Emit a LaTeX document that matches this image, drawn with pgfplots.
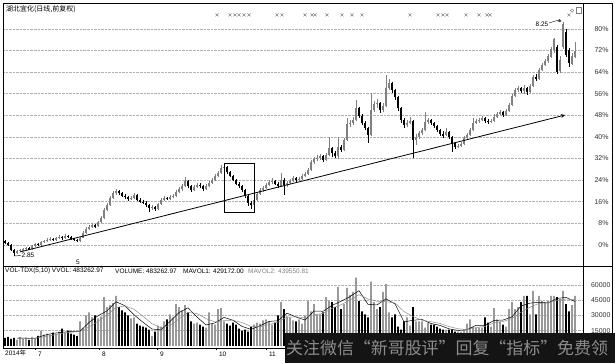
\documentclass[border=0pt]{standalone}
\usepackage{pgfplots}
\pgfplotsset{compat=1.18}
\usepackage{pgfplotstable}
\usepackage{fontspec}
\setmainfont{Liberation Sans}
\newfontfamily\cjk{Noto Sans CJK SC}
\pgfplotsset{
  upday/.style={restrict expr to domain={\thisrow{d}}{0.5:1.5}},
  downday/.style={restrict expr to domain={\thisrow{d}}{-0.5:0.5}},
}
\pgfplotstableread{
x o h l c d v
5 1.5 1.9 0.3 0.7 0 8
8 0.7 1.0 -0.4 0.0 0 9
11 0.0 0.2 -2.3 -1.9 0 7
14 -1.9 -1.5 -4.1 -3.0 0 8
17 -3.0 -1.8 -3.4 -2.2 1 6
20 -2.2 -1.4 -2.6 -1.9 1 9
23 -1.9 -1.0 -2.3 -1.5 1 7
26 -1.5 -0.6 -1.9 -1.1 1 8
29 -1.1 -0.7 -2.0 -1.6 0 6
32 -1.6 0.0 -1.9 -0.4 1 9
35 -0.4 0.9 -0.7 0.4 1 7
38 0.4 0.8 -0.3 0.0 0 10
41 0.0 1.6 -0.3 1.1 1 15
44 1.1 2.0 0.8 1.5 1 11
47 1.5 2.4 1.1 1.9 1 12
50 1.9 3.0 1.5 2.2 1 11
53 2.2 2.6 1.4 1.9 0 13
56 1.9 3.1 1.6 2.6 1 12
59 2.6 3.6 2.2 3.0 1 14
62 3.0 3.4 2.0 2.6 0 17
65 2.6 4.1 2.3 3.3 1 13
68 3.3 3.8 2.5 3.0 0 15
71 3.0 3.3 1.9 2.2 0 12
74 2.2 2.6 1.4 1.9 0 11
77 1.9 2.2 1.1 1.5 0 10
80 1.5 3.0 1.2 2.6 1 24
83 2.6 5.0 2.4 4.4 1 18
86 4.4 6.6 4.0 5.9 1 30
89 5.9 7.4 5.5 6.7 1 33
92 6.7 8.1 6.2 7.4 1 28
95 7.4 7.9 6.3 6.9 0 30
98 6.9 9.0 6.6 8.5 1 27
101 8.5 10.7 8.1 10.0 1 29
104 10.0 13.7 9.6 13.0 1 48
107 13.0 15.6 12.6 14.8 1 38
110 14.8 18.2 14.4 17.4 1 40
113 17.4 20.0 17.0 19.3 1 42
116 19.3 20.7 18.5 20.0 1 49
119 20.0 20.4 18.5 19.3 0 38
122 19.3 19.6 17.6 18.1 0 35
125 18.1 18.9 17.0 17.8 0 33
128 17.8 18.3 16.3 17.0 0 30
131 17.0 18.1 16.5 17.4 1 27
134 17.4 19.3 17.0 18.5 1 28
137 18.5 18.9 16.3 16.7 0 22
140 16.7 17.2 15.4 15.9 0 20
143 15.9 16.7 15.0 15.6 0 19
146 15.6 16.1 14.1 14.8 0 18
149 14.8 15.2 12.2 13.7 0 16
152 13.7 14.8 13.0 14.1 1 10
155 14.1 14.4 12.6 13.3 0 14
158 13.3 15.6 13.0 15.2 1 20
161 15.2 17.2 14.8 16.7 1 19
164 16.7 18.1 16.3 17.4 1 24
167 17.4 17.8 16.5 17.0 0 26
170 17.0 18.5 16.7 17.8 1 31
173 17.8 18.9 17.4 18.1 1 28
176 18.1 20.4 17.8 19.6 1 41
179 19.6 21.5 19.3 20.7 1 38
182 20.7 22.6 20.0 21.9 1 35
185 21.9 25.2 21.5 23.7 1 40
188 23.7 24.1 21.1 21.9 0 33
191 21.9 22.2 19.6 20.4 0 24
194 20.4 22.2 20.0 21.5 1 22
197 21.5 23.0 21.1 22.2 1 23
200 22.2 23.0 21.1 21.9 0 21
203 21.9 22.2 20.0 20.7 0 19
206 20.7 22.6 20.4 21.9 1 18
209 21.9 23.7 21.5 23.0 1 33
212 23.0 24.8 22.6 24.1 1 22
215 24.1 26.3 23.7 25.6 1 21
218 25.6 27.4 25.2 26.7 1 36
221 26.7 29.6 26.3 28.5 1 37
224 28.5 30.4 27.8 28.9 1 24
227 28.9 29.3 26.3 27.0 0 22
230 27.0 27.4 25.2 25.6 0 20
233 25.6 26.0 23.7 24.1 0 23
236 24.1 24.4 22.2 22.6 0 21
239 22.6 23.3 21.1 21.9 0 17
242 21.9 22.2 19.6 20.4 0 15
245 20.4 20.7 17.4 18.1 0 16
248 18.1 18.5 14.4 15.6 0 14
251 15.6 16.3 13.3 14.8 0 19
254 14.8 17.4 14.4 16.7 1 21
257 16.7 19.6 16.3 18.9 1 23
260 18.9 21.1 18.5 20.4 1 22
263 20.4 21.9 19.6 21.1 1 25
266 21.1 23.0 20.7 22.2 1 26
269 22.2 24.1 21.9 23.3 1 24
272 23.3 24.8 22.6 23.7 1 21
275 23.7 24.1 22.2 22.6 0 23
278 22.6 23.3 21.1 21.9 0 30
281 21.9 26.7 21.5 24.1 1 43
284 24.1 24.8 18.5 22.2 0 36
287 22.2 23.7 21.5 23.0 1 29
290 23.0 24.4 22.6 23.7 1 28
293 23.7 25.6 23.3 24.8 1 25
296 24.8 25.2 23.3 24.1 0 24
299 24.1 25.2 23.7 24.4 1 26
302 24.4 26.3 24.1 25.6 1 22
305 25.6 27.0 25.2 26.3 1 30
308 26.3 28.5 25.9 27.8 1 44
311 27.8 31.5 27.4 30.7 1 34
314 30.7 32.6 30.0 31.9 1 41
317 31.9 33.3 31.1 32.2 1 31
320 32.2 33.7 31.5 33.0 1 31
323 33.0 33.3 30.7 31.5 0 33
326 31.5 34.1 31.1 33.3 1 48
329 33.3 40.0 33.0 35.9 1 44
332 35.9 36.3 32.6 34.1 0 43
335 34.1 34.8 32.2 33.0 0 38
338 33.0 40.0 31.9 36.3 1 58
341 36.3 37.0 34.4 35.2 0 36
344 35.2 39.6 34.8 38.9 1 41
347 38.9 47.0 38.5 44.8 1 57
350 44.8 46.3 43.7 45.2 1 50
353 45.2 47.4 44.4 46.3 1 53
356 46.3 53.7 45.9 50.7 1 67
359 50.7 51.1 47.0 47.8 0 44
362 47.8 48.5 44.4 45.2 0 34
365 45.2 45.9 42.6 43.3 0 31
368 43.3 43.7 37.8 40.7 0 28
371 40.7 56.3 40.4 50.0 1 63
374 50.0 53.3 49.3 52.2 1 43
377 52.2 54.1 50.7 52.6 1 36
380 52.6 53.0 48.9 50.0 0 38
383 50.0 52.6 49.3 51.5 1 53
386 51.5 63.0 51.1 58.1 1 61
389 58.1 61.5 57.4 60.0 1 33
392 60.0 60.4 56.3 57.4 0 28
395 57.4 57.8 53.7 54.8 0 31
398 54.8 55.2 49.6 50.7 0 19
401 50.7 51.1 45.2 46.3 0 16
404 46.3 47.0 43.3 44.4 0 24
407 44.4 46.3 43.7 45.2 1 28
410 45.2 47.4 44.8 45.9 1 20
413 45.9 46.3 32.2 38.9 0 38
416 38.9 41.1 37.0 40.0 1 24
419 40.0 42.2 39.3 41.5 1 24
422 41.5 43.3 40.7 42.6 1 24
425 42.6 49.3 42.2 45.6 1 18
428 45.6 47.0 44.8 46.3 1 23
431 46.3 46.7 44.4 45.2 0 21
434 45.2 45.6 43.3 44.1 0 21
437 44.1 44.4 41.9 42.6 0 19
440 42.6 43.0 40.4 41.1 0 17
443 41.1 42.2 39.6 40.7 0 16
446 40.7 43.3 40.4 41.9 1 16
449 41.9 42.2 39.3 40.0 0 16
452 40.0 40.4 34.4 37.8 0 16
455 37.8 38.1 35.6 36.3 0 14
458 36.3 37.4 35.9 36.7 1 14
461 36.7 38.1 36.3 37.4 1 14
464 37.4 40.4 37.0 39.6 1 16
467 39.6 41.5 39.3 40.7 1 22
470 40.7 43.3 40.4 42.6 1 26
473 42.6 47.0 42.2 45.2 1 19
476 45.2 46.7 44.8 45.9 1 18
479 45.9 47.0 45.2 46.3 1 18
482 46.3 47.8 45.9 47.0 1 18
485 47.0 47.4 45.2 45.9 0 28
488 45.9 46.7 44.8 45.6 0 23
491 45.6 46.7 45.2 45.9 1 19
494 45.9 48.5 45.6 47.4 1 37
497 47.4 49.3 47.0 48.5 1 26
500 48.5 50.0 48.1 49.3 1 24
503 49.3 49.6 47.4 48.1 0 21
506 48.1 50.4 47.8 49.6 1 19
509 49.6 52.6 49.3 51.9 1 36
512 51.9 55.9 51.5 55.2 1 43
515 55.2 58.1 54.8 57.4 1 36
518 57.4 58.9 56.7 58.1 1 38
521 58.1 58.5 56.3 57.0 0 43
524 57.0 59.3 55.9 58.1 1 49
527 58.1 58.5 55.6 56.7 0 49
530 56.7 59.6 56.3 58.9 1 31
533 58.9 63.0 58.5 62.2 1 54
536 62.2 63.3 60.7 61.5 0 31
539 61.5 65.6 61.1 64.8 1 49
542 64.8 67.4 64.4 66.7 1 44
545 66.7 68.9 66.3 68.1 1 43
548 68.1 70.7 67.4 70.0 1 44
551 69.6 73.3 69.3 72.6 1 49
554 72.2 76.7 71.1 76.3 1 49
557 73.3 74.1 63.3 64.1 0 48
560 64.4 70.0 63.7 68.5 1 46
563 73.3 82.6 72.6 81.9 1 54
566 78.9 80.0 69.6 70.4 0 41
569 72.2 73.0 66.0 67.4 0 34
572 67.0 71.1 66.7 70.0 1 40
575 69.6 75.2 69.3 71.9 1 49
}\candles
\pgfplotstableread{
x a b
17 7.6 7.6
26 7.6 7.6
35 7.4 7.5
44 10.4 9.0
53 12.4 10.6
62 13.4 12.4
71 14.2 13.5
80 14.4 14.1
89 23.0 18.6
98 29.6 24.2
107 34.4 30.4
116 43.4 37.7
125 39.4 39.2
134 30.6 36.0
143 23.2 29.1
152 16.6 21.8
161 15.8 17.9
170 24.0 20.1
179 32.8 26.4
188 37.4 32.9
197 28.4 31.8
206 20.6 26.8
215 22.6 23.6
224 28.0 24.8
233 25.2 25.3
242 19.2 22.9
251 16.2 19.2
260 19.8 18.8
269 24.0 21.0
278 24.8 23.4
287 32.2 28.3
296 28.4 28.5
305 25.4 27.9
314 34.2 30.6
323 34.0 31.9
332 39.8 37.0
341 43.8 40.4
350 48.4 45.1
359 54.2 50.2
368 40.8 46.0
377 40.2 43.9
386 46.2 43.4
395 41.2 42.2
404 23.6 33.7
413 25.2 28.8
422 26.0 25.2
431 22.0 23.8
440 20.2 22.1
449 16.8 19.0
458 15.2 16.9
467 16.0 16.0
476 20.2 17.9
485 20.2 19.2
494 25.0 22.6
503 25.4 24.0
512 28.6 26.9
521 39.2 33.1
530 42.0 38.0
539 42.8 41.7
548 42.2 42.3
557 46.6 44.6
566 47.6 46.0
575 43.6 45.4
}\mavol
\begin{document}
\begin{tikzpicture}[x=1bp,y=1bp]
\useasboundingbox (0,0) rectangle (615,363);
\fill[white] (0,0) rectangle (615,363);
% ---------------- price panel
\begin{axis}[
  at={(3bp,97bp)}, anchor=south west, scale only axis,
  width=580bp, height=263bp,
  xmin=3, xmax=583, ymin=-7.8, ymax=89.6,
  axis line style={black, line width=0.8bp},
  xtick=\empty,
  ytick={0,8,...,80},
  yticklabels={0\%,8\%,16\%,24\%,32\%,40\%,48\%,56\%,64\%,72\%,80\%},
  yticklabel pos=right,
  yticklabel style={anchor=east, xshift=29bp, font=\fontsize{7}{8}\selectfont, text=black!80},
  major tick length=0pt,
  ymajorgrids, grid style={densely dotted, black!30, line width=0.5bp},
]
% up days: wicks and bodies
\addplot[draw=none, mark=none, upday,
  error bars/.cd, y dir=both, y explicit, error mark=none,
  error bar style={draw=black!50, line width=0.5bp}]
  table[x=x, y=c, y error plus expr=\thisrow{h}-\thisrow{c}, y error minus expr=\thisrow{c}-\thisrow{l}]{\candles};
\addplot[draw=none, mark=none, upday,
  error bars/.cd, y dir=both, y explicit, error mark=none,
  error bar style={draw=black!50, line width=1.8bp}]
  table[x=x, y expr={(\thisrow{o}+\thisrow{c})/2}, y error expr={max(abs(\thisrow{o}-\thisrow{c})/2,0.2)}]{\candles};
% down days
\addplot[draw=none, mark=none, downday,
  error bars/.cd, y dir=both, y explicit, error mark=none,
  error bar style={draw=black, line width=0.5bp}]
  table[x=x, y=c, y error plus expr=\thisrow{h}-\thisrow{c}, y error minus expr=\thisrow{c}-\thisrow{l}]{\candles};
\addplot[draw=none, mark=none, downday,
  error bars/.cd, y dir=both, y explicit, error mark=none,
  error bar style={draw=black, line width=1.8bp}]
  table[x=x, y expr={(\thisrow{o}+\thisrow{c})/2}, y error expr={max(abs(\thisrow{o}-\thisrow{c})/2,0.2)}]{\candles};
% signal markers
\addplot[only marks, mark=x, mark size=2.1bp, black!60, mark options={line width=0.45bp}] coordinates {
(217,85.2) (230,85.2) (235,85.2) (239,85.2) (244,85.2) (249,85.2) (277,85.2) (282,85.2)
(305,85.2) (312,85.2) (315,85.2) (327,85.2) (342,85.2) (352,85.2) (362,85.2) (410,85.2)
(438,85.2) (443,85.2) (447,85.2) (466,85.2) (479,85.2) (487,85.2) (490,85.2) (569,85.2)};
% trend line
\addplot[black, line width=0.8bp, -{stealth}] coordinates {(20,-2.6) (565,48.1)};
\draw[line width=0.7bp] (axis cs:224,11.9) rectangle (axis cs:254,30.4);
\node[anchor=east, font=\fontsize{6.5}{7}\selectfont, inner sep=0.5bp] at (axis cs:549,81.8) {8.25};
\draw[line width=0.4bp, -{stealth}] (axis cs:549,82.2) -- (axis cs:558,83.2) -- (axis cs:561.5,82.8);
\draw[line width=0.4bp] (axis cs:14,-4.1) -- (axis cs:21,-3.9);
\node[anchor=west, font=\fontsize{6.5}{7}\selectfont, inner sep=0.5bp] at (axis cs:21,-3.9) {2.85};
\node[font=\fontsize{6.5}{7}\selectfont, inner sep=0pt] at (axis cs:78,-6.6) {5};
\node[anchor=north west, font=\cjk\fontsize{7}{8}\selectfont, inner sep=0pt] at (axis cs:6,88.6) {湖北宜化(日线,前复权)};
\draw[black!50, line width=0.4bp] (axis cs:572,86.8) circle (1.7bp);
\draw[black!50, line width=0.4bp] (axis cs:576,88.0) rectangle (axis cs:581,86.0);
\end{axis}
% ---------------- volume panel
\begin{axis}[
  at={(3bp,15bp)}, anchor=south west, scale only axis,
  width=580bp, height=82bp,
  xmin=3, xmax=583, ymin=-2, ymax=78.4,
  axis line style={black, line width=0.8bp},
  xtick={35,99,157,216,266}, xticklabels={7,8,9,10,11},
  xtick pos=bottom, tick align=outside,
  xtick style={black, line width=0.5bp},
  xticklabel style={anchor=north west, xshift=-0.5bp, yshift=1.5bp, font=\fontsize{6.5}{7}\selectfont},
  ytick={15,30,45,60}, yticklabels={15000,30000,45000,60000},
  yticklabel pos=right,
  ytick style={draw=none},
  yticklabel style={anchor=east, xshift=29bp, font=\fontsize{7}{8}\selectfont, text=black!80},
  major tick length=2bp,
  ymajorgrids, grid style={densely dotted, black!30, line width=0.5bp},
]
\addplot[ybar, bar width=1.9bp, bar shift=0pt, fill=black!40, draw=none, upday] table[x=x, y=v]{\candles};
\addplot[ybar, bar width=1.9bp, bar shift=0pt, fill=black, draw=none, downday] table[x=x, y=v]{\candles};
\addplot[black, line width=0.5bp] table[x=x, y=a]{\mavol};
\addplot[black!45, line width=0.5bp] table[x=x, y=b]{\mavol};
\node[anchor=west, font=\fontsize{6.5}{7}\selectfont, inner sep=0pt] at (axis cs:5,73.5) {VOL-TDX(5,10) VVOL: 483262.97};
\node[anchor=west, font=\fontsize{6.5}{7}\selectfont, inner sep=0pt] at (axis cs:115,73.5) {VOLUME: 483262.97};
\node[anchor=west, font=\fontsize{6.5}{7}\selectfont, inner sep=0pt] at (axis cs:183,73.5) {MAVOL1: 429172.00};
\node[anchor=west, font=\fontsize{6.5}{7}\selectfont, inner sep=0pt, text=black!50] at (axis cs:248,73.5) {MAVOL2: 439550.81};
\end{axis}
% frame and extras
\draw[line width=0.8bp] (3,15) rectangle (612,360);
\draw[line width=0.8bp] (583,97) -- (612,97);
\node[anchor=west, font=\fontsize{6.5}{7}\selectfont, inner sep=0pt] at (5,10) {2014{\cjk 年}};
\fill[black!92] (285,0) rectangle (615,30);
\node[anchor=west, inner sep=0pt, text=black!45, font=\cjk\fontsize{17}{17}\selectfont] at (286,15) {关注微信“新哥股评”回复“指标”免费领};
\end{tikzpicture}
\end{document}
